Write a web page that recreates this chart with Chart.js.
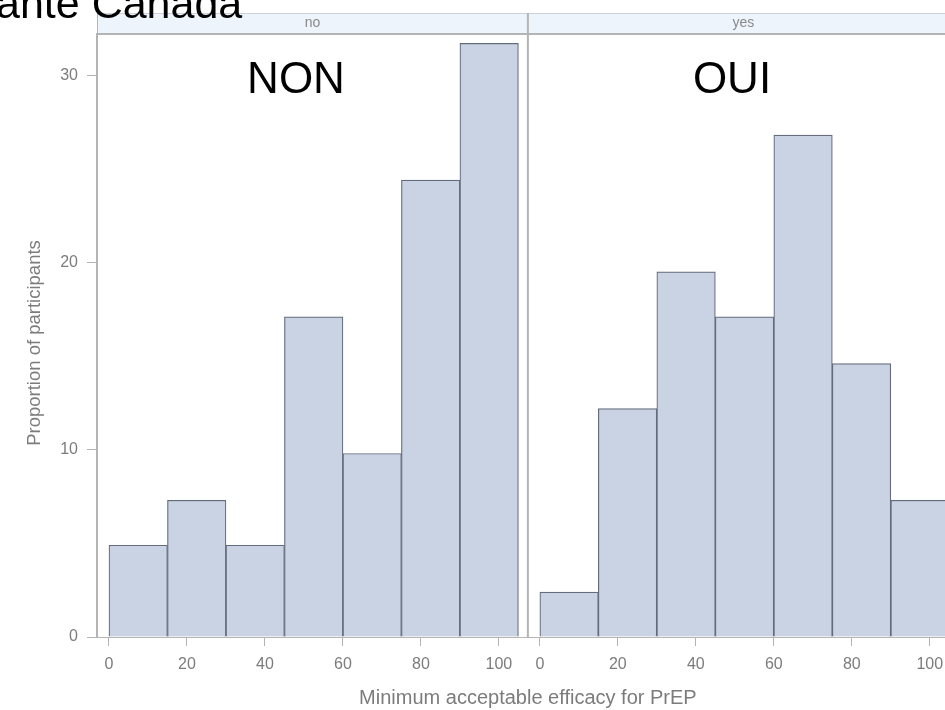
<!DOCTYPE html>
<html><head><meta charset="utf-8">
<script src="https://cdn.jsdelivr.net/npm/chart.js@4/dist/chart.umd.min.js"></script>
<style>html,body{margin:0;padding:0;background:#fff;overflow:hidden}canvas{display:block}</style>
</head><body>
<canvas id="c" width="945" height="710"></canvas>
<script>
// ---- data (n = 41 in each panel) ----
const binCenters = [7.5, 22.5, 37.5, 52.5, 67.5, 82.5, 97.5];
const binWidth = 15;
const nonValues  = [4.9, 7.3, 4.9, 17.1, 9.8, 24.4, 31.7];
const ouiValues  = [2.4, 12.2, 19.5, 17.1, 26.8, 14.6, 7.3];
const xTickLabels = [0, 20, 40, 60, 80, 100];
const yTickLabels = [0, 10, 20, 30];
const panelHeaders = ['no', 'yes'];
const panelNames = ['NON', 'OUI'];
const xTitle = 'Minimum acceptable efficacy for PrEP';
const yTitle = 'Proportion of participants';
const topText = 'anté Canada';

// ---- layout of the two panels on one shared linear x scale ----
const X_MIN = -3.07;
const PANEL_OFFSET = 110.5;
const X_MAX = 214.4;
const Y_MAX = 32.2;

const FILL = '#c9d3e4', EDGE = '#646c7c';
const AXIS = '#b4b4b4', TXT = '#7c7c7c';
const FONT = '"Liberation Sans", Arial, sans-serif';

const nonData = binCenters.map((c, i) => ({x: c, y: nonValues[i]}));
const ouiData = binCenters.map((c, i) => ({x: c + PANEL_OFFSET, y: ouiValues[i]}));

const binPixels = ctx => {
  const s = ctx.chart.scales.x;
  return Math.abs(s.getPixelForValue(binWidth) - s.getPixelForValue(0));
};

const decor = {
  id: 'decor',
  beforeDraw(chart) {
    const ctx = chart.ctx;
    ctx.save(); ctx.fillStyle = '#fff'; ctx.fillRect(0, 0, chart.width, chart.height); ctx.restore();
  },
  afterDraw(chart) {
    const {ctx, chartArea: a, scales: {x, y}} = chart;
    const divX = x.getPixelForValue(PANEL_OFFSET + X_MIN);
    ctx.save();
    // header strip
    const hTop = 13, hBot = a.top;
    ctx.fillStyle = '#eef4fb';
    ctx.fillRect(a.left, hTop, a.right - a.left, hBot - hTop);
    ctx.strokeStyle = '#cdd2d8'; ctx.lineWidth = 1;
    ctx.beginPath(); ctx.moveTo(a.left, hTop + 0.5); ctx.lineTo(a.right, hTop + 0.5); ctx.stroke();
    ctx.strokeStyle = AXIS; ctx.lineWidth = 2;
    ctx.beginPath(); ctx.moveTo(a.left, hBot); ctx.lineTo(a.right, hBot); ctx.stroke();
    ctx.lineWidth = 1;
    ctx.beginPath(); ctx.moveTo(a.left + 0.5, hTop); ctx.lineTo(a.left + 0.5, hBot); ctx.stroke();
    // panel divider
    ctx.lineWidth = 2;
    ctx.beginPath(); ctx.moveTo(divX, hTop); ctx.lineTo(divX, a.bottom); ctx.stroke();
    // header labels
    ctx.fillStyle = '#8a8a8a';
    ctx.font = '14px ' + FONT;
    ctx.textAlign = 'center'; ctx.textBaseline = 'middle';
    const rightEnd = divX + (divX - a.left);
    ctx.fillText(panelHeaders[0], (a.left + divX) / 2, (hTop + hBot) / 2);
    ctx.fillText(panelHeaders[1], (divX + rightEnd) / 2, (hTop + hBot) / 2);
    // axis titles
    ctx.fillStyle = TXT;
    ctx.font = '20px ' + FONT;
    ctx.fillText(xTitle, divX, 698);
    ctx.font = '18.5px ' + FONT;
    ctx.save();
    ctx.translate(35, 343); ctx.rotate(-Math.PI / 2);
    ctx.fillText(yTitle, 0, 0);
    ctx.restore();
    // panel names
    ctx.fillStyle = '#000';
    ctx.font = '44px ' + FONT;
    ctx.textBaseline = 'alphabetic';
    ctx.fillText(panelNames[0], 296, 93);
    ctx.fillText(panelNames[1], 732, 93);
    // cropped slide title
    ctx.textAlign = 'left';
    ctx.font = '43px ' + FONT;
    ctx.fillText(topText, -4, 18);
    ctx.restore();
  }
};

const barStyle = {backgroundColor: FILL, borderColor: EDGE, borderWidth: 1.2,
                  grouped: false, barThickness: binPixels};

new Chart(document.getElementById('c'), {
  type: 'bar',
  data: {
    datasets: [
      Object.assign({label: 'no', data: nonData}, barStyle),
      Object.assign({label: 'yes', data: ouiData}, barStyle)
    ]
  },
  options: {
    responsive: false,
    animation: false,
    layout: {padding: {top: 34, left: 0, right: 0, bottom: 0}},
    plugins: {legend: {display: false}, tooltip: {enabled: false}, title: {display: false}},
    scales: {
      x: {
        type: 'linear',
        offset: false,
        min: X_MIN, max: X_MAX, bounds: 'data',
        afterBuildTicks(scale) {
          scale.ticks = xTickLabels.map(v => ({value: v}))
            .concat(xTickLabels.map(v => ({value: v + PANEL_OFFSET})));
        },
        afterFit(scale) { scale.height = 73; scale.paddingRight = 0; scale.paddingLeft = 0; },
        ticks: {
          autoSkip: false, maxRotation: 0, padding: 9, color: TXT,
          font: {family: FONT, size: 16},
          callback: v => (v > PANEL_OFFSET + X_MIN ? Math.round(v - PANEL_OFFSET) : Math.round(v))
        },
        grid: {offset: false, drawOnChartArea: false, drawTicks: true, tickLength: 9, color: AXIS},
        border: {display: true, color: AXIS, width: 1}
      },
      y: {
        type: 'linear',
        min: 0, max: Y_MAX, bounds: 'data',
        afterBuildTicks(scale) { scale.ticks = yTickLabels.map(v => ({value: v})); },
        afterFit(scale) { scale.width = 97; scale.paddingTop = 0; scale.paddingBottom = 0; },
        ticks: {padding: 9, color: TXT, font: {family: FONT, size: 16}},
        grid: {drawOnChartArea: false, drawTicks: true, tickLength: 10, color: AXIS},
        border: {display: true, color: AXIS, width: 2}
      }
    }
  },
  plugins: [decor]
});
</script>
</body></html>
